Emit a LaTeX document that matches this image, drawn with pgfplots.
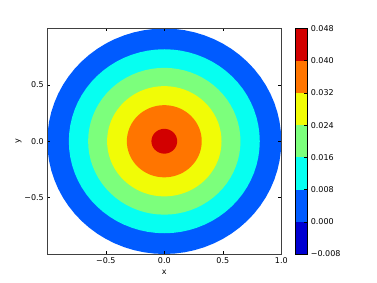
\documentclass[border=0pt]{standalone}
\usepackage{pgfplots}
\pgfplotsset{compat=1.18}
\usepackage{fontspec}
\setmainfont{DejaVu Sans}
\definecolor{c1}{RGB}{0,0,209}
\definecolor{c2}{RGB}{0,91,255}
\definecolor{c3}{RGB}{6,255,241}
\definecolor{c4}{RGB}{124,255,124}
\definecolor{c5}{RGB}{241,252,6}
\definecolor{c6}{RGB}{255,117,0}
\definecolor{c7}{RGB}{210,0,0}
\begin{document}
\begin{tikzpicture}[x=1pt,y=1pt]
\path[use as bounding box] (0,0) rectangle (377,283);
\begin{axis}[
  at={(47.3pt,29pt)}, anchor=south west, scale only axis,
  width=234pt, height=225.5pt,
  xmin=-1, xmax=1, ymin=-1, ymax=1,
  xtick={-0.5,0,0.5,1}, xticklabels={−0.5,0.0,0.5,1.0},
  ytick={-0.5,0,0.5}, yticklabels={−0.5,0.0,0.5},
  tick align=inside, major tick length=3pt,
  tick style={black, line width=0.5pt},
  axis line style={black!75, line width=0.8pt},
  every tick label/.append style={font=\fontsize{8}{9}\selectfont},
  label style={font=\fontsize{8}{9}\selectfont},
  xlabel={x}, ylabel={y}, ylabel shift=-4pt,
  axis on top,
]
\addplot[fill=c2, draw=none, data cs=polar] coordinates {(0,1) (5,1) (10,1) (15,1) (20,1) (25,1) (30,1) (35,1) (40,1) (45,1) (50,1) (55,1) (60,1) (65,1) (70,1) (75,1) (80,1) (85,1) (90,1) (95,1) (100,1) (105,1) (110,1) (115,1) (120,1) (125,1) (130,1) (135,1) (140,1) (145,1) (150,1) (155,1) (160,1) (165,1) (170,1) (175,1) (180,1) (185,1) (190,1) (195,1) (200,1) (205,1) (210,1) (215,1) (220,1) (225,1) (230,1) (235,1) (240,1) (245,1) (250,1) (255,1) (260,1) (265,1) (270,1) (275,1) (280,1) (285,1) (290,1) (295,1) (300,1) (305,1) (310,1) (315,1) (320,1) (325,1) (330,1) (335,1) (340,1) (345,1) (350,1) (355,1) (360,1)};
\addplot[fill=c3, draw=none, data cs=polar] coordinates {(0,0.816) (5,0.816) (10,0.816) (15,0.816) (20,0.816) (25,0.816) (30,0.816) (35,0.816) (40,0.816) (45,0.816) (50,0.816) (55,0.816) (60,0.816) (65,0.816) (70,0.816) (75,0.816) (80,0.816) (85,0.816) (90,0.816) (95,0.816) (100,0.816) (105,0.816) (110,0.816) (115,0.816) (120,0.816) (125,0.816) (130,0.816) (135,0.816) (140,0.816) (145,0.816) (150,0.816) (155,0.816) (160,0.816) (165,0.816) (170,0.816) (175,0.816) (180,0.816) (185,0.816) (190,0.816) (195,0.816) (200,0.816) (205,0.816) (210,0.816) (215,0.816) (220,0.816) (225,0.816) (230,0.816) (235,0.816) (240,0.816) (245,0.816) (250,0.816) (255,0.816) (260,0.816) (265,0.816) (270,0.816) (275,0.816) (280,0.816) (285,0.816) (290,0.816) (295,0.816) (300,0.816) (305,0.816) (310,0.816) (315,0.816) (320,0.816) (325,0.816) (330,0.816) (335,0.816) (340,0.816) (345,0.816) (350,0.816) (355,0.816) (360,0.816)};
\addplot[fill=c4, draw=none, data cs=polar] coordinates {(0,0.651) (5,0.651) (10,0.651) (15,0.651) (20,0.651) (25,0.651) (30,0.651) (35,0.651) (40,0.651) (45,0.651) (50,0.651) (55,0.651) (60,0.651) (65,0.651) (70,0.651) (75,0.651) (80,0.651) (85,0.651) (90,0.651) (95,0.651) (100,0.651) (105,0.651) (110,0.651) (115,0.651) (120,0.651) (125,0.651) (130,0.651) (135,0.651) (140,0.651) (145,0.651) (150,0.651) (155,0.651) (160,0.651) (165,0.651) (170,0.651) (175,0.651) (180,0.651) (185,0.651) (190,0.651) (195,0.651) (200,0.651) (205,0.651) (210,0.651) (215,0.651) (220,0.651) (225,0.651) (230,0.651) (235,0.651) (240,0.651) (245,0.651) (250,0.651) (255,0.651) (260,0.651) (265,0.651) (270,0.651) (275,0.651) (280,0.651) (285,0.651) (290,0.651) (295,0.651) (300,0.651) (305,0.651) (310,0.651) (315,0.651) (320,0.651) (325,0.651) (330,0.651) (335,0.651) (340,0.651) (345,0.651) (350,0.651) (355,0.651) (360,0.651)};
\addplot[fill=c5, draw=none, data cs=polar] coordinates {(0,0.489) (5,0.489) (10,0.489) (15,0.489) (20,0.489) (25,0.489) (30,0.489) (35,0.489) (40,0.489) (45,0.489) (50,0.489) (55,0.489) (60,0.489) (65,0.489) (70,0.489) (75,0.489) (80,0.489) (85,0.489) (90,0.489) (95,0.489) (100,0.489) (105,0.489) (110,0.489) (115,0.489) (120,0.489) (125,0.489) (130,0.489) (135,0.489) (140,0.489) (145,0.489) (150,0.489) (155,0.489) (160,0.489) (165,0.489) (170,0.489) (175,0.489) (180,0.489) (185,0.489) (190,0.489) (195,0.489) (200,0.489) (205,0.489) (210,0.489) (215,0.489) (220,0.489) (225,0.489) (230,0.489) (235,0.489) (240,0.489) (245,0.489) (250,0.489) (255,0.489) (260,0.489) (265,0.489) (270,0.489) (275,0.489) (280,0.489) (285,0.489) (290,0.489) (295,0.489) (300,0.489) (305,0.489) (310,0.489) (315,0.489) (320,0.489) (325,0.489) (330,0.489) (335,0.489) (340,0.489) (345,0.489) (350,0.489) (355,0.489) (360,0.489)};
\addplot[fill=c6, draw=none, data cs=polar] coordinates {(0,0.32) (5,0.32) (10,0.32) (15,0.32) (20,0.32) (25,0.32) (30,0.32) (35,0.32) (40,0.32) (45,0.32) (50,0.32) (55,0.32) (60,0.32) (65,0.32) (70,0.32) (75,0.32) (80,0.32) (85,0.32) (90,0.32) (95,0.32) (100,0.32) (105,0.32) (110,0.32) (115,0.32) (120,0.32) (125,0.32) (130,0.32) (135,0.32) (140,0.32) (145,0.32) (150,0.32) (155,0.32) (160,0.32) (165,0.32) (170,0.32) (175,0.32) (180,0.32) (185,0.32) (190,0.32) (195,0.32) (200,0.32) (205,0.32) (210,0.32) (215,0.32) (220,0.32) (225,0.32) (230,0.32) (235,0.32) (240,0.32) (245,0.32) (250,0.32) (255,0.32) (260,0.32) (265,0.32) (270,0.32) (275,0.32) (280,0.32) (285,0.32) (290,0.32) (295,0.32) (300,0.32) (305,0.32) (310,0.32) (315,0.32) (320,0.32) (325,0.32) (330,0.32) (335,0.32) (340,0.32) (345,0.32) (350,0.32) (355,0.32) (360,0.32)};
\addplot[fill=c7, draw=none, data cs=polar] coordinates {(0,0.11) (10,0.11) (20,0.11) (30,0.11) (40,0.11) (50,0.11) (60,0.11) (70,0.11) (80,0.11) (90,0.11) (100,0.11) (110,0.11) (120,0.11) (130,0.11) (140,0.11) (150,0.11) (160,0.11) (170,0.11) (180,0.11) (190,0.11) (200,0.11) (210,0.11) (220,0.11) (230,0.11) (240,0.11) (250,0.11) (260,0.11) (270,0.11) (280,0.11) (290,0.11) (300,0.11) (310,0.11) (320,0.11) (330,0.11) (340,0.11) (350,0.11) (360,0.11)};
\end{axis}
\begin{axis}[
  at={(295pt,29pt)}, anchor=south west, scale only axis,
  width=12.3pt, height=225.5pt,
  xmin=0, xmax=1, ymin=-0.008, ymax=0.048,
  xtick=\empty, scaled y ticks=false,
  ytick={-0.008,0,0.008,0.016,0.024,0.032,0.04,0.048},
  yticklabels={−0.008,0.000,0.008,0.016,0.024,0.032,0.040,0.048},
  yticklabel pos=right, ytick pos=right,
  tick align=inside, major tick length=3pt,
  tick style={black, line width=0.5pt},
  axis line style={black, line width=0.8pt},
  every tick label/.append style={font=\fontsize{8}{9}\selectfont},
  axis on top,
]
\addplot[fill=c1, draw=none] coordinates {(0,-0.008) (1,-0.008) (1,0) (0,0)};
\addplot[fill=c2, draw=none] coordinates {(0,0) (1,0) (1,0.008) (0,0.008)};
\addplot[fill=c3, draw=none] coordinates {(0,0.008) (1,0.008) (1,0.016) (0,0.016)};
\addplot[fill=c4, draw=none] coordinates {(0,0.016) (1,0.016) (1,0.024) (0,0.024)};
\addplot[fill=c5, draw=none] coordinates {(0,0.024) (1,0.024) (1,0.032) (0,0.032)};
\addplot[fill=c6, draw=none] coordinates {(0,0.032) (1,0.032) (1,0.04) (0,0.04)};
\addplot[fill=c7, draw=none] coordinates {(0,0.04) (1,0.04) (1,0.048) (0,0.048)};
\end{axis}
\end{tikzpicture}
\end{document}
